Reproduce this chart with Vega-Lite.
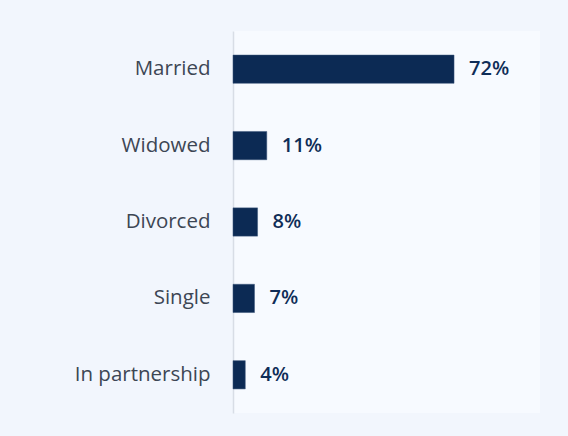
{
  "$schema": "https://vega.github.io/schema/vega-lite/v6.json",
  "width": 307,
  "height": 382,
  "autosize": {"type": "none"},
  "padding": {"left": 233, "top": 31, "right": 28, "bottom": 23},
  "background": "#f2f6fd",
  "config": {
    "view": {"fill": "#f7faff", "stroke": null},
    "font": "Open Sans"
  },
  "data": {
    "values": [
      {"status": "Married", "share": 0.72},
      {"status": "Widowed", "share": 0.11},
      {"status": "Divorced", "share": 0.08},
      {"status": "Single", "share": 0.07},
      {"status": "In partnership", "share": 0.04}
    ]
  },
  "encoding": {
    "y": {
      "field": "status",
      "type": "nominal",
      "sort": null,
      "scale": {"paddingInner": 0.63, "paddingOuter": 0.315},
      "axis": {
        "title": null,
        "ticks": false,
        "domainColor": "#d8dde6",
        "domainWidth": 1.5,
        "labelPadding": 23,
        "labelFontSize": 20.5,
        "labelColor": "#3d4654",
        "labelFont": "Open Sans"
      }
    },
    "x": {
      "field": "share",
      "type": "quantitative",
      "scale": {"domain": [0, 1]},
      "axis": null
    }
  },
  "layer": [
    {"mark": {"type": "bar", "color": "#0c2a54", "stroke": "#3a5478", "strokeWidth": 0.5}},
    {
      "mark": {"type": "text", "align": "left", "baseline": "middle", "dx": 15, "fontSize": 20, "fontWeight": 600, "color": "#0f2d57", "font": "Open Sans"},
      "encoding": {"text": {"field": "share", "type": "quantitative", "format": ".0%"}}
    }
  ]
}
